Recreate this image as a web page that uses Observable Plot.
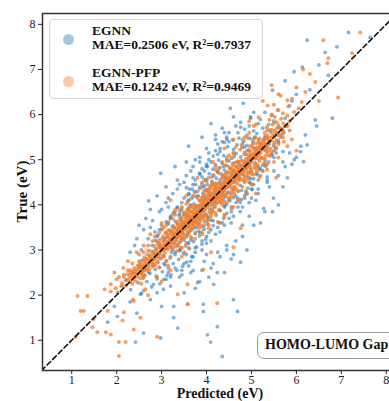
<!DOCTYPE html>
<html><head><meta charset="utf-8">
<script src="https://cdn.jsdelivr.net/npm/d3@7"></script>
<script src="https://cdn.jsdelivr.net/npm/@observablehq/plot@0.6"></script>
<style>
html,body{margin:0;padding:0;background:#fff;overflow:hidden;width:389px;height:401px;}
#wrap{position:relative;width:389px;height:401px;overflow:hidden;}
.box{position:absolute;box-sizing:border-box;font-family:"Liberation Serif","Times New Roman",serif;font-weight:bold;color:#111;}
.t{position:absolute;white-space:nowrap;line-height:1;font-family:"Liberation Serif","Times New Roman",serif;font-weight:bold;color:#111;}
.m{position:absolute;border-radius:50%;}
</style></head><body><div id="wrap"></div>
<script>
// ---- data: [predicted, true] in eV ----
const seriesNames = ["EGNN", "EGNN-PFP"];
const seriesStats = ["MAE=0.2506 eV, R²=0.7937", "MAE=0.1242 eV, R²=0.9469"];
const seriesColors = ["#2b79b9", "#f07f30"];
const panelLabel = "HOMO-LUMO Gap";
const xLabel = "Predicted (eV)";
const yLabel = "True (eV)";
const xTicks = [1, 2, 3, 4, 5, 6, 7, 8];
const yTicks = [1, 2, 3, 4, 5, 6, 7, 8];
const xDomain = [0.35, 8.25];
const yDomain = [0.33, 8.24];
const diagonal = [0.2, 8.4];

const egnnCore = [
[2.55,2.04],[2.31,2.12],[2.78,2.18],[2.12,2.21],[2.96,2.25],[2.48,2.27],[2.67,2.3],[2.22,2.33],[3.05,2.35],[2.59,2.38],[2.41,2.4],[2.88,2.42],[2.63,2.44],[3.21,2.45],[2.35,2.47],[2.74,2.48],[3.12,2.43],[2.9,2.36],
[2.71,2.51],[3.02,2.52],[2.58,2.54],[3.34,2.55],[2.86,2.57],[2.63,2.58],[3.15,2.6],[2.95,2.61],[2.49,2.63],[3.47,2.64],[2.8,2.66],[3.08,2.67],[2.69,2.69],[3.26,2.7],[2.92,2.72],[3.56,2.73],[2.77,2.75],[3.11,2.76],[2.6,2.78],[3.38,2.79],[2.99,2.81],[3.19,2.82],[2.84,2.84],[3.67,2.85],[3.05,2.87],[2.73,2.88],[3.3,2.9],[3.49,2.92],[2.94,2.94],[3.22,2.95],[2.81,2.97],[3.41,2.99],
[3.25,3.01],[2.88,3.02],[3.62,3.03],[3.1,3.04],[3.44,3.05],[2.97,3.06],[3.78,3.07],[3.19,3.08],[3.53,3.09],[2.79,3.1],[3.36,3.11],[3.07,3.12],[3.9,3.13],[3.28,3.14],[3.6,3.15],[2.95,3.16],[3.41,3.17],[3.15,3.18],[3.71,3.19],[3.33,3.2],[2.86,3.21],[3.5,3.22],[3.22,3.23],[3.98,3.24],[3.45,3.25],[3.04,3.26],[3.67,3.27],[3.31,3.28],[3.55,3.29],[3.13,3.3],[3.84,3.31],[3.39,3.32],[2.92,3.33],[3.6,3.34],[3.26,3.35],[3.75,3.36],[3.48,3.37],[3.09,3.38],[4.05,3.39],[3.58,3.4],[3.35,3.41],[3.82,3.42],[3.18,3.43],[3.66,3.44],[3.44,3.45],[3.95,3.46],[3.01,3.47],[3.53,3.48],[3.73,3.49],[3.29,3.5],
[3.61,3.51],[3.92,3.52],[3.24,3.52],[3.7,3.53],[4.15,3.54],[3.47,3.55],[3.83,3.56],[3.36,3.57],[4.02,3.58],[3.58,3.59],[3.14,3.6],[3.77,3.61],[4.28,3.61],[3.52,3.62],[3.95,3.63],[3.3,3.64],[3.69,3.65],[4.1,3.66],[3.44,3.67],[3.86,3.68],[3.62,3.69],[4.38,3.7],[3.2,3.71],[3.79,3.72],[4.04,3.73],[3.55,3.74],[3.91,3.75],[3.39,3.76],[4.21,3.77],[3.73,3.78],[3.98,3.79],[3.5,3.8],[4.45,3.81],[3.82,3.82],[3.27,3.83],[4.12,3.84],[3.66,3.85],[3.94,3.86],[3.43,3.87],[4.31,3.88],[3.87,3.89],[4.07,3.9],[3.58,3.91],[4.56,3.92],[3.76,3.93],[3.35,3.94],[4.19,3.95],[3.97,3.96],[3.64,3.97],[4.4,3.98],[3.85,3.99],
[4.1,4.0],[4.45,4.01],[3.72,4.02],[4.22,4.03],[3.95,4.04],[4.66,4.05],[4.3,4.06],[3.58,4.07],[4.05,4.08],[4.52,4.09],[3.86,4.1],[4.38,4.11],[4.78,4.12],[4.14,4.13],[3.66,4.14],[4.27,4.15],[4.6,4.16],[3.99,4.17],[4.43,4.18],[3.78,4.19],[4.21,4.2],[4.85,4.21],[4.08,4.22],[3.61,4.23],[4.35,4.24],[4.55,4.25],[3.92,4.26],[4.47,4.27],[4.16,4.28],[3.73,4.29],[4.7,4.3],[4.29,4.31],[3.98,4.32],[4.61,4.33],[4.04,4.34],[3.68,4.35],[4.41,4.36],[4.92,4.37],[4.2,4.38],[3.85,4.39],[4.53,4.4],[4.33,4.41],[3.95,4.42],[4.75,4.43],[4.12,4.44],[3.76,4.45],[4.48,4.46],[4.26,4.47],[4.98,4.48],[3.9,4.49],[4.6,4.5],[4.37,4.3],[3.82,4.2],[4.69,4.15],[4.02,4.45],[3.55,4.38],[4.88,4.28],[4.18,4.05],[3.64,4.0],[5.02,4.34],
[4.45,4.51],[4.12,4.52],[4.83,4.53],[4.3,4.54],[4.62,4.55],[3.98,4.56],[4.51,4.57],[5.05,4.58],[4.22,4.59],[4.74,4.6],[4.38,4.61],[3.9,4.62],[4.9,4.63],[4.55,4.64],[4.16,4.65],[4.67,4.66],[5.12,4.67],[4.34,4.68],[4.06,4.69],[4.8,4.7],[4.47,4.71],[4.25,4.72],[5.0,4.73],[4.6,4.74],[3.95,4.75],[4.72,4.76],[4.4,4.77],[5.18,4.78],[4.14,4.79],[4.86,4.8],[4.53,4.81],[4.28,4.82],[4.97,4.83],[4.66,4.84],[4.02,4.85],[4.78,4.86],[4.45,4.87],[5.25,4.88],[4.2,4.89],[4.92,4.9],[4.58,4.91],[4.35,4.92],[5.08,4.93],[4.71,4.94],[4.1,4.95],[4.84,4.96],[4.5,4.97],[5.3,4.98],[4.27,4.99],[4.95,4.6],[3.85,4.7],[5.35,4.62],[4.0,4.9],[5.15,4.85],[4.42,4.58],
[4.92,5.01],[4.55,5.03],[5.25,5.04],[4.76,5.06],[5.08,5.08],[4.38,5.09],[4.98,5.11],[5.45,5.12],[4.66,5.14],[5.15,5.15],[4.85,5.17],[4.3,5.18],[5.32,5.2],[4.95,5.21],[4.6,5.23],[5.1,5.24],[5.55,5.26],[4.79,5.27],[4.47,5.29],[5.22,5.3],[4.9,5.32],[4.68,5.33],[5.4,5.35],[5.03,5.36],[4.4,5.38],[5.16,5.39],[4.83,5.41],[5.6,5.42],[4.58,5.44],[5.28,5.45],[4.97,5.47],[4.72,5.48],[5.37,5.49],[5.07,5.5],[5.7,5.18],[4.5,5.4],[5.5,5.05],[4.25,5.12],
[5.3,5.52],[4.9,5.54],[5.55,5.56],[5.12,5.58],[4.7,5.6],[5.42,5.62],[5.05,5.64],[5.7,5.66],[4.85,5.68],[5.25,5.7],[5.6,5.73],[4.95,5.75],[5.38,5.78],[5.15,5.8],[4.76,5.83],[5.5,5.86],[5.2,5.89],[5.75,5.92],[4.98,5.95],[5.45,5.98]
];

const egnnExtra = [
[3.9,3.2],[2.7,3.25],[4.1,3.45],[3.0,3.55],[4.35,3.6],[3.2,3.75],[4.55,3.85],[3.35,3.95],[4.75,4.05],[3.5,4.15],[4.9,4.25],[3.62,4.35],[5.05,4.45],[3.75,4.55],[5.2,4.65],[3.9,4.8],[5.3,4.9],[4.05,5.0],[5.45,5.1],[4.2,5.2],[5.5,5.3],[4.35,5.4],[5.65,5.5],[4.5,5.6],
[3.55,2.9],[2.55,3.0],[3.75,3.05],[4.0,3.3],[2.85,3.4],[4.25,3.5],[3.1,3.62],[4.5,3.7],[3.3,3.85],[4.7,3.95],[3.45,4.05],[4.85,4.15],[3.6,4.25],[5.0,4.35],[3.7,4.45],[5.15,4.55],[3.85,4.68],[5.25,4.75],[4.0,4.85],[5.38,4.95],[4.15,5.08],[5.5,5.2],[4.3,5.25],[5.6,5.38],[4.45,5.45],[5.72,5.6],
[3.4,3.0],[3.65,3.22],[3.85,3.38],[4.15,3.65],[4.4,3.95],[4.65,4.2],[4.95,4.5],[5.12,4.7],[5.32,4.85],[5.55,5.15],[2.9,3.3],[3.15,3.58],[3.4,3.8],[3.6,4.1],[3.8,4.3],[4.0,4.55],[4.25,4.75],[4.45,5.0],[4.6,5.15],[4.8,5.35],
[3.05,2.7],[3.3,2.95],[3.58,3.15],[3.78,3.5],[4.02,3.72],[4.28,3.88],[4.5,4.12],[4.78,4.32],[4.98,4.58],[5.2,4.8],[2.95,3.45],[3.2,3.7],[3.45,3.92],[3.7,4.18],[3.92,4.4],[4.12,4.62],[4.38,4.85],[4.62,5.08],[4.85,5.28],[5.05,5.45]
];

const egnnWide = [
[2.6,3.45],[3.75,2.95],[2.8,3.65],[4.0,3.15],[2.95,3.85],[4.2,3.35],[3.1,4.05],[4.4,3.55],[3.25,4.25],[4.6,3.75],[3.4,4.45],[4.8,3.95],[3.55,4.65],[5.0,4.15],[3.7,4.85],[5.15,4.35],[3.85,5.05],[5.35,4.55],[4.0,5.25],[5.5,4.75],[4.2,5.45],[5.7,4.95],[4.4,5.6],[5.85,5.15],
[3.2,2.4],[2.45,3.25],[3.45,2.55],[2.75,3.5],[3.65,2.75],[3.0,3.9],[3.9,3.0],[3.15,4.15],[4.1,3.2],[3.35,4.35],[4.3,3.4],[3.5,4.5],[4.55,3.6],[3.65,4.75],[4.75,3.85],[3.85,4.95],[4.95,4.05],[4.05,5.15],[5.15,4.25],[4.25,5.35],[5.4,4.4],[4.45,5.5],[5.6,4.65],[4.65,5.75],[5.75,4.85],[5.95,5.0]
];

const egnnOutliers = [
[6.24,7.65],[6.64,7.38],[6.13,7.05],[6.71,6.87],[5.47,6.54],[4.53,6.14],[4.82,6.25],[4.98,5.92],[4.76,5.72],[6.42,5.88],[6.8,5.92],[7.16,7.82],[7.64,7.71],[5.6,6.1],[5.9,6.3],[5.3,6.05],[6.0,6.45],[5.75,6.75],[5.15,6.4],[6.3,6.55],[5.95,6.95],[4.6,5.95],[4.35,5.7],[5.85,6.2],[6.5,7.1],[6.9,7.5],[4.2,5.55],[5.05,6.05],
[2.98,4.7],[2.5,3.55],[2.75,3.9],[3.3,4.85],[3.6,5.3],[3.1,4.4],[2.4,3.1],[3.9,5.5],[4.1,5.8],[3.75,5.0],[2.65,3.7],[3.35,4.55],[2.9,4.2],[3.55,4.95],[2.3,2.95],[3.15,3.95],[3.7,4.6],[2.71,4.09],
[5.49,4.15],[5.2,3.6],[5.8,4.6],[5.9,4.9],[6.1,5.3],[5.6,4.0],[5.3,3.85],[4.8,3.3],[4.6,2.9],[4.9,3.0],[4.3,2.85],[3.7,2.55],[5.05,3.55],[5.7,4.4],[6.0,5.05],[4.45,3.1],[5.35,4.5],[4.95,3.75],[5.1,4.1],[4.15,2.7],[6.2,5.55],[6.45,5.75],[6.24,5.33],[6.09,5.18],[6.16,4.96],[5.47,3.85],[5.27,3.92],
[2.02,2.06],[2.53,2.02],[2.82,2.24],[3.04,2.13],[3.8,2.28],[4.16,2.24],[4.24,2.5],[4.6,1.9],[4.69,1.64],[3.93,1.8],[3.93,1.64],[3.58,1.8],[3.27,1.5],[3.36,1.27],[2.98,1.05],[2.42,0.96],[2.6,1.16],[4.02,1.12],[4.09,0.96],[4.24,1.3],[4.35,0.64],[2.02,1.53],[1.8,1.4],[3.27,1.75],[3.2,2.2],[3.5,2.05],[2.9,2.05],[3.85,2.3],[2.6,2.1],[3.0,1.75],[3.4,2.4],[3.65,2.5],[4.4,2.5],[2.3,1.85],[1.95,1.75],[2.75,1.9],[3.1,2.35],[3.75,2.15],[2.45,1.6],[4.1,2.6],
[3.3,2.6],[3.5,2.7],[3.7,2.85],[3.95,2.75],[4.25,2.95],[3.45,2.45],[3.9,2.55],[4.05,2.4],[3.15,2.5],[3.6,2.65],[4.45,3.0],[4.0,2.9],[4.76,2.73],[4.8,3.55],[4.55,2.8],[4.65,3.2]
];

const pfpCore = [
[2.21,2.22],[2.35,2.25],[2.12,2.27],[2.3,2.29],[2.44,2.31],[2.2,2.33],[2.38,2.34],[2.27,2.36],[2.52,2.37],[2.33,2.39],[2.16,2.4],[2.41,2.41],[2.29,2.43],[2.6,2.44],[2.45,2.45],[2.24,2.46],[2.37,2.48],[2.55,2.49],[2.31,2.5],[2.47,2.47],
[2.42,2.51],[2.58,2.52],[2.36,2.53],[2.67,2.54],[2.5,2.55],[2.61,2.56],[2.44,2.57],[2.73,2.58],[2.55,2.59],[2.39,2.6],[2.64,2.61],[2.52,2.62],[2.8,2.63],[2.6,2.64],[2.47,2.65],[2.71,2.66],[2.58,2.68],[2.85,2.69],[2.66,2.7],[2.52,2.71],[2.77,2.72],[2.63,2.74],[2.9,2.75],[2.71,2.76],[2.56,2.77],[2.82,2.79],[2.69,2.8],[2.95,2.81],[2.76,2.82],[2.62,2.84],[2.88,2.85],[2.75,2.86],[3.02,2.88],[2.83,2.89],[2.68,2.9],[2.94,2.91],[2.81,2.93],[3.07,2.94],[2.88,2.96],[2.74,2.98],
[3.0,3.0],[3.14,3.01],[2.88,3.02],[3.05,3.03],[3.22,3.04],[2.95,3.05],[3.1,3.06],[3.31,3.07],[3.02,3.08],[2.84,3.09],[3.17,3.1],[3.08,3.11],[3.35,3.12],[2.98,3.13],[3.2,3.14],[3.12,3.15],[2.91,3.16],[3.28,3.17],[3.15,3.18],[3.42,3.19],[3.04,3.2],[3.24,3.21],[3.18,3.22],[2.97,3.23],[3.33,3.24],[3.21,3.25],[3.5,3.26],[3.1,3.27],[3.29,3.28],[3.24,3.29],[3.03,3.3],[3.39,3.31],[3.27,3.32],[3.56,3.33],[3.16,3.34],[3.35,3.35],[3.3,3.36],[3.09,3.37],[3.45,3.38],[3.33,3.39],[3.62,3.4],[3.22,3.41],[3.41,3.42],[3.36,3.43],[3.15,3.44],[3.51,3.45],[3.39,3.46],[3.68,3.47],[3.28,3.48],[3.47,3.49],[3.42,3.5],[3.2,3.44],[3.58,3.37],[3.06,3.19],[3.37,3.09],[3.26,3.41],[3.13,3.29],[3.49,3.33],[2.93,3.11],[3.44,3.23],
[3.5,3.51],[3.64,3.51],[3.38,3.52],[3.55,3.53],[3.72,3.54],[3.45,3.55],[3.6,3.56],[3.81,3.57],[3.52,3.58],[3.34,3.59],[3.67,3.6],[3.58,3.61],[3.85,3.62],[3.48,3.63],[3.7,3.64],[3.62,3.65],[3.41,3.66],[3.78,3.67],[3.65,3.68],[3.92,3.69],[3.54,3.7],[3.74,3.71],[3.68,3.72],[3.47,3.73],[3.83,3.74],[3.71,3.75],[4.0,3.76],[3.6,3.77],[3.79,3.78],[3.74,3.79],[3.53,3.8],[3.89,3.81],[3.77,3.82],[4.06,3.83],[3.66,3.84],[3.85,3.85],[3.8,3.86],[3.59,3.87],[3.95,3.88],[3.83,3.89],[4.12,3.9],[3.72,3.91],[3.91,3.92],[3.86,3.93],[3.65,3.94],[4.01,3.95],[3.89,3.96],[4.18,3.97],[3.78,3.98],[3.97,3.99],[3.92,3.99],[3.57,3.62],[3.88,3.55],[3.43,3.7],[4.05,3.68],[3.69,3.58],[3.76,3.88],[3.61,3.93],[3.99,3.78],[3.5,3.84],[4.1,3.8],[3.84,3.66],[3.7,3.96],[3.46,3.6],[3.93,3.73],[3.63,3.75],[3.81,3.97],[4.15,3.86],[3.55,3.78],[3.73,3.63],[3.96,3.91],[3.4,3.56],[3.87,3.7],[3.58,3.9],[4.02,3.64],
[4.0,4.01],[4.14,4.01],[3.88,4.02],[4.05,4.03],[4.22,4.04],[3.95,4.05],[4.1,4.06],[4.31,4.07],[4.02,4.08],[3.84,4.09],[4.17,4.1],[4.08,4.11],[4.35,4.12],[3.98,4.13],[4.2,4.14],[4.12,4.15],[3.91,4.16],[4.28,4.17],[4.15,4.18],[4.42,4.19],[4.04,4.2],[4.24,4.21],[4.18,4.22],[3.97,4.23],[4.33,4.24],[4.21,4.25],[4.5,4.26],[4.1,4.27],[4.29,4.28],[4.24,4.29],[4.03,4.3],[4.39,4.31],[4.27,4.32],[4.56,4.33],[4.16,4.34],[4.35,4.35],[4.3,4.36],[4.09,4.37],[4.45,4.38],[4.33,4.39],[4.62,4.4],[4.22,4.41],[4.41,4.42],[4.36,4.43],[4.15,4.44],[4.51,4.45],[4.39,4.46],[4.68,4.47],[4.28,4.48],[4.47,4.49],[4.42,4.5],[4.07,4.12],[4.38,4.05],[3.93,4.2],[4.55,4.18],[4.19,4.08],[4.26,4.38],[4.11,4.43],[4.49,4.28],[4.0,4.34],[4.6,4.3],[4.34,4.16],[4.2,4.46],[3.96,4.1],[4.43,4.23],[4.13,4.25],[4.31,4.47],[4.65,4.36],[4.05,4.28],[4.23,4.13],[4.46,4.41],[3.9,4.06],[4.37,4.2],[4.08,4.4],[4.52,4.14],
[4.5,4.51],[4.64,4.51],[4.38,4.52],[4.55,4.53],[4.72,4.54],[4.45,4.55],[4.6,4.56],[4.81,4.57],[4.52,4.58],[4.34,4.59],[4.67,4.6],[4.58,4.61],[4.85,4.62],[4.48,4.63],[4.7,4.64],[4.62,4.65],[4.41,4.66],[4.78,4.67],[4.65,4.68],[4.92,4.69],[4.54,4.7],[4.74,4.71],[4.68,4.72],[4.47,4.73],[4.83,4.74],[4.71,4.75],[5.0,4.76],[4.6,4.77],[4.79,4.78],[4.74,4.79],[4.53,4.8],[4.89,4.81],[4.77,4.82],[5.06,4.83],[4.66,4.84],[4.85,4.85],[4.8,4.86],[4.59,4.87],[4.95,4.88],[4.83,4.89],[5.12,4.9],[4.72,4.91],[4.91,4.92],[4.86,4.93],[4.65,4.94],[5.01,4.95],[4.89,4.96],[5.18,4.97],[4.78,4.98],[4.97,4.99],[4.57,4.62],[4.88,4.55],[4.43,4.7],[5.05,4.68],[4.69,4.58],[4.76,4.88],[4.61,4.93],[4.99,4.78],[4.5,4.84],[5.1,4.8],[4.84,4.66],[4.7,4.96],[4.46,4.6],[4.93,4.73],[4.63,4.75],
[5.0,5.01],[5.14,5.02],[4.88,5.03],[5.05,5.04],[5.22,5.05],[4.95,5.06],[5.1,5.08],[5.31,5.09],[5.02,5.1],[4.84,5.12],[5.17,5.13],[5.08,5.14],[5.35,5.16],[4.98,5.17],[5.2,5.18],[5.12,5.2],[4.91,5.21],[5.28,5.22],[5.15,5.24],[5.42,5.25],[5.04,5.26],[5.24,5.28],[5.18,5.29],[4.97,5.3],[5.33,5.32],[5.21,5.33],[5.5,5.34],[5.1,5.36],[5.29,5.37],[5.24,5.38],[5.03,5.4],[5.39,5.41],[5.27,5.42],[5.56,5.44],[5.16,5.45],[5.35,5.46],[5.3,5.48],[5.09,5.49],[5.45,5.5],[5.07,5.15],[5.38,5.1],[5.19,5.35],[4.93,5.2],[5.26,5.43],[5.12,5.27],
[5.5,5.52],[5.36,5.54],[5.63,5.55],[5.47,5.57],[5.58,5.59],[5.29,5.6],[5.7,5.62],[5.52,5.64],[5.41,5.66],[5.66,5.68],[5.57,5.7],[5.34,5.72],[5.78,5.74],[5.6,5.76],[5.47,5.78],[5.71,5.8],[5.56,5.83],[5.85,5.86],[5.4,5.88],[5.66,5.91],[5.52,5.95],[5.8,5.98],
[5.7,6.03],[5.95,6.06],[5.58,6.1],[6.05,6.14],[5.82,6.18],[5.5,6.22],[6.12,6.28],[5.9,6.35],[5.65,6.42],[6.2,6.5]
];

const pfpDense = [
[2.46,2.42],[2.52,2.5],[2.6,2.57],[2.58,2.63],[2.7,2.69],[2.75,2.78],[2.84,2.8],[2.86,2.91],[2.97,2.95],[3.03,3.0],[3.06,3.08],[3.13,3.12],[3.19,3.16],[3.2,3.24],[3.27,3.25],[3.3,3.31],[3.37,3.34],[3.36,3.4],[3.44,3.43],[3.48,3.47],[3.52,3.55],[3.59,3.56],[3.61,3.64],[3.68,3.66],[3.7,3.73],[3.77,3.75],[3.8,3.83],[3.87,3.85],[3.9,3.93],[3.97,3.95],[4.0,4.03],[4.07,4.05],[4.1,4.13],[4.17,4.15],[4.2,4.23],[4.27,4.25],[4.3,4.33],[4.37,4.35],[4.4,4.43],[4.47,4.45],[4.5,4.53],[4.57,4.55],[4.6,4.63],[4.67,4.65],[4.7,4.73],[4.77,4.75],[4.8,4.83],[4.87,4.85],[4.9,4.93],[4.97,4.95],[5.0,5.03],[5.07,5.05],[5.1,5.13],[5.17,5.15],[5.2,5.23],[5.27,5.25],[5.3,5.35],[5.4,5.42],[5.47,5.5],[5.55,5.6],[5.65,5.7],
[2.55,2.45],[2.4,2.52],[2.68,2.6],[2.52,2.66],[2.8,2.72],[2.65,2.8],[2.93,2.86],[2.8,2.94],[3.1,3.02],[2.95,3.1],[3.22,3.15],[3.08,3.22],[3.35,3.28],[3.2,3.36],[3.46,3.4],[3.32,3.48],[3.58,3.52],[3.45,3.6],[3.72,3.65],[3.56,3.71],[3.84,3.78],[3.7,3.84],[3.96,3.9],[3.82,3.97],[4.08,4.02],[3.94,4.1],[4.21,4.15],[4.06,4.22],[4.33,4.28],[4.19,4.35],[4.46,4.4],[4.31,4.47],[4.58,4.52],[4.44,4.6],[4.71,4.65],[4.56,4.72],[4.83,4.78],[4.69,4.85],[4.96,4.9],[4.81,4.97],[5.08,5.02],[4.94,5.1],[5.2,5.15],[5.06,5.22],[5.33,5.28],[5.19,5.36],[5.45,5.42],[5.32,5.5],[5.58,5.55],[5.45,5.66],
[2.6,2.4],[2.3,2.55],[2.85,2.65],[2.5,2.75],[3.05,2.85],[2.7,2.99],[3.25,3.06],[2.9,3.2],[3.45,3.27],[3.1,3.38],[3.62,3.44],[3.25,3.53],[3.8,3.6],[3.42,3.69],[3.95,3.76],[3.58,3.82],[4.12,3.92],[3.75,3.99],[4.28,4.07],[3.9,4.16],[4.42,4.22],[4.05,4.32],[4.6,4.38],[4.2,4.48],[4.75,4.56],[4.37,4.64],[4.92,4.72],[4.55,4.8],[5.08,4.88],[4.7,4.96],[5.22,5.04],[4.88,5.12],[5.38,5.2],[5.02,5.3],[5.52,5.38],[5.18,5.47],[5.68,5.56],[5.35,5.65],[5.8,5.75],[5.5,5.82],
[3.33,3.29],[3.41,3.45],[3.52,3.49],[3.57,3.63],[3.66,3.61],[3.74,3.8],[3.79,3.71],[3.86,3.9],[3.93,3.88],[4.02,4.06],[4.04,3.98],[4.11,4.17],[4.18,4.1],[4.23,4.3],[4.29,4.21],[4.36,4.41],[4.42,4.37],[4.49,4.55],[4.54,4.47],[4.61,4.68],[4.68,4.6],[4.73,4.79],[4.79,4.71],[4.86,4.91],[4.92,4.87],[5.0,5.06],[3.45,3.36],[3.62,3.7],[3.83,3.77],[3.98,4.04],[4.15,4.08],[4.32,4.38],[4.47,4.42],[4.63,4.7],[4.8,4.74],[4.95,5.01],[3.38,3.47],[3.55,3.5],[3.7,3.77],[3.88,3.82],[4.05,4.12],[4.22,4.16],[4.38,4.45],[4.55,4.5],[4.72,4.8],[4.88,4.82],[5.05,5.12],[5.15,5.08],[5.25,5.32],[5.35,5.28]
];

const pfpWide = [
[2.35,2.7],[2.95,2.62],[2.5,2.9],[3.2,2.85],[2.7,3.1],[3.45,3.05],[2.85,3.3],[3.65,3.28],[3.0,3.45],[3.85,3.5],[3.15,3.62],[4.0,3.66],[3.3,3.78],[4.2,3.82],[3.45,3.95],[4.35,4.0],[3.6,4.1],[4.5,4.15],[3.75,4.28],[4.7,4.32],[3.9,4.45],[4.85,4.5],[4.05,4.6],[5.0,4.68],[4.2,4.78],[5.15,4.85],[4.35,4.95],[5.3,5.02],[4.5,5.1],[5.45,5.18],[4.65,5.28],[5.6,5.35],[4.8,5.45],[5.7,5.5],[4.95,5.6],[5.85,5.65],[5.1,5.78],
[2.6,2.95],[3.1,2.75],[2.8,3.2],[3.35,2.98],[2.95,3.38],[3.55,3.15],[3.1,3.55],[3.75,3.38],[3.25,3.7],[3.95,3.55],[3.4,3.88],[4.1,3.74],[3.55,4.02],[4.28,3.9],[3.7,4.2],[4.45,4.06],[3.85,4.36],[4.62,4.24],[4.0,4.52],[4.8,4.4],[4.15,4.66],[4.95,4.58],[4.3,4.82],[5.12,4.74],[4.45,4.98],[5.28,4.92],[4.6,5.15],[5.42,5.08],[4.78,5.32],[5.55,5.25],[4.92,5.48],[5.72,5.4],
[3.05,3.5],[3.9,3.35],[3.35,3.62],[4.05,3.48],[3.5,3.8],[4.25,3.62],[3.65,3.98],[4.4,3.78],[3.8,4.15],[4.55,3.95],[3.95,4.32],[4.72,4.12],[4.12,4.5],[4.88,4.3],[4.28,4.7],[5.02,4.45],[4.42,4.88],[5.18,4.62],[4.58,5.05],[5.35,4.78],[4.75,5.22],[5.5,4.95]
];

const pfpSpread = [
[3.6,3.05],[2.6,3.1],[3.9,3.4],[3.0,3.6],[4.4,3.75],[3.3,3.9],[4.7,4.1],[3.55,4.2],[5.0,4.45],[3.8,4.6],[5.25,4.75],[4.15,4.95],[5.6,5.05],[4.4,5.25],[5.8,5.3],[4.6,5.45],[3.15,2.65],[2.25,2.75],[2.9,2.4],[3.45,2.85],[4.05,3.55],[4.2,4.85],[4.85,5.5],[5.35,4.9],[5.05,5.75],[5.45,6.0],[4.95,5.85],[5.25,6.3],[4.3,3.6],[3.75,3.25],[2.75,3.35],[3.25,3.8],[4.9,4.25],[5.55,4.6],[3.5,2.95],[4.6,3.95],[2.45,2.95],[3.95,4.55],[4.45,5.05],[5.9,5.45]
];

const pfpOutliers = [
[1.13,1.98],[1.35,1.98],[1.2,1.65],[1.27,1.65],[1.46,1.29],[1.57,1.18],[1.87,1.13],[2.05,0.96],[2.2,0.96],[2.05,0.65],[2.9,1.08],[3.58,1.8],[4.24,1.82],[2.38,1.87],[1.87,2.24],[1.73,2.13],[2.16,1.62],[2.38,1.24],[1.8,1.65],[1.49,1.47],[3.36,2.02],[1.09,1.07],[1.76,1.18],[2.53,1.5],[2.36,1.9],[2.13,1.44],[4.6,3.06],[4.76,3.48],[3.93,2.57],[3.58,2.24],[2.64,2.13],[1.87,2.08],
[6.6,7.65],[7.42,7.82],[6.71,7.25],[6.42,6.72],[5.8,6.32],[5.36,6.2],[5.16,5.94],[6.69,7.14],[7.24,7.36],[6.93,6.38],[6.3,6.9],[6.0,6.6],[5.6,6.45],[6.5,6.3],[6.15,7.0],[5.45,6.65],[5.3,5.25],[2.0,2.35],[1.95,2.5],[2.15,2.6],[4.1,2.95],[3.0,2.3],[2.7,2.0],[2.55,2.25],[3.2,2.55],[5.1,4.25],[6.0,5.2],[3.2,4.1],
[2.16,2.45],[2.05,2.4],[2.25,2.55],[2.1,2.2],[1.98,2.15]
];

// ---- build rows ----
const toRows = (pts, s) => pts.map(([p, t]) => ({pred: p, truth: t, series: s}));
const egnnRows = toRows([...egnnCore, ...egnnExtra, ...egnnWide, ...egnnOutliers], seriesNames[0]);
const pfpRows = toRows([...pfpCore, ...pfpDense, ...pfpWide, ...pfpSpread, ...pfpOutliers], seriesNames[1]);
const diagRows = diagonal.map(v => ({v}));

const serif = '"Liberation Serif","Times New Roman",serif';

const chart = Plot.plot({
  width: 400, height: 401,
  marginLeft: 42, marginRight: 3, marginTop: 13, marginBottom: 31,
  style: {fontFamily: serif, fontSize: "12px", color: "#222", maxWidth: "none", background: "transparent"},
  x: {domain: xDomain, ticks: xTicks, tickSize: 4, tickPadding: 0.5, label: null},
  y: {domain: yDomain, ticks: yTicks, tickSize: 4, tickPadding: 3, label: null},
  marks: [
    Plot.dot(egnnRows, {x: "pred", y: "truth", r: 1.9, fill: seriesColors[0], fillOpacity: 0.58, clip: true}),
    Plot.dot(pfpRows, {x: "pred", y: "truth", r: 2.0, fill: seriesColors[1], fillOpacity: 0.76, clip: true}),
    Plot.line(diagRows, {x: "v", y: "v", stroke: "#111", strokeWidth: 1.6, strokeDasharray: "5,3", clip: true}),
    Plot.frame({stroke: "#333", strokeWidth: 1.5})
  ]
});

const svg = d3.select(chart);
svg.append("text")
  .attr("transform", "translate(27,191.5) rotate(-90)")
  .attr("text-anchor", "middle")
  .attr("font-family", serif).attr("font-weight", "bold").attr("font-size", 15).attr("fill", "#111")
  .text(yLabel);
svg.append("text")
  .attr("x", 220).attr("y", 398)
  .attr("text-anchor", "middle")
  .attr("font-family", serif).attr("font-weight", "bold").attr("font-size", 14).attr("fill", "#111")
  .text(xLabel);

const wrap = document.getElementById("wrap");
wrap.appendChild(chart);

// legend box
const legend = document.createElement("div");
legend.className = "box";
Object.assign(legend.style, {left: "49px", top: "19px", width: "214px", height: "80px",
  border: "1px solid #d8d8d8", borderRadius: "4px", background: "rgba(255,255,255,0.85)"});
wrap.appendChild(legend);

const fs = 13.5;
const baselines = [[35, 49], [77, 91]];
const markerY = [39, 81];
seriesNames.forEach((name, i) => {
  const m = document.createElement("div");
  m.className = "m";
  Object.assign(m.style, {left: (68 - 5.5) + "px", top: (markerY[i] - 5.5) + "px", width: "11px", height: "11px",
    background: seriesColors[i], opacity: "0.42"});
  wrap.appendChild(m);
  [name, seriesStats[i]].forEach((txt, j) => {
    const d = document.createElement("div");
    d.className = "t";
    d.textContent = txt;
    Object.assign(d.style, {left: "92px", top: (baselines[i][j] - 0.8375 * fs) + "px", fontSize: fs + "px"});
    wrap.appendChild(d);
  });
});

// panel label box
const panel = document.createElement("div");
panel.className = "box";
Object.assign(panel.style, {left: "257px", top: "332px", width: "150px", height: "27px",
  border: "1px solid #999", borderRadius: "7px", background: "rgba(255,255,255,0.9)"});
wrap.appendChild(panel);
const pt = document.createElement("div");
pt.className = "t";
pt.textContent = panelLabel;
Object.assign(pt.style, {left: "265px", top: (350 - 0.8375 * 14) + "px", fontSize: "14px"});
wrap.appendChild(pt);
</script></body></html>
